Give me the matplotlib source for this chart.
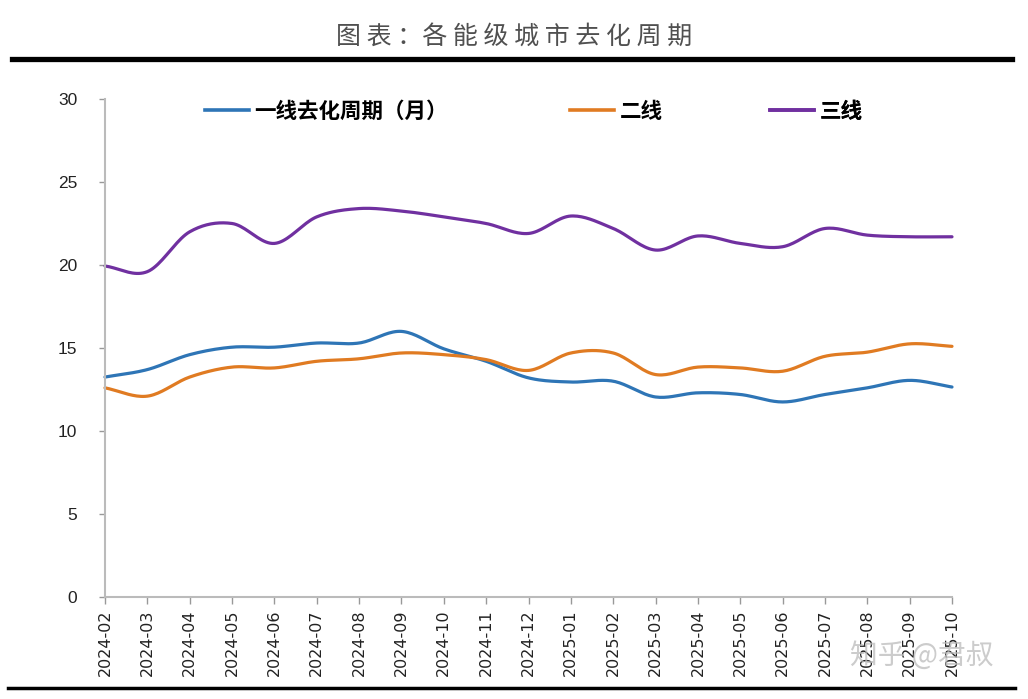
import numpy as np
import matplotlib
matplotlib.use("Agg")
import matplotlib.pyplot as plt
from matplotlib.lines import Line2D

plt.rcParams['font.family'] = ['Noto Sans CJK SC', 'DejaVu Sans']

months = ["2024-02", "2024-03", "2024-04", "2024-05", "2024-06", "2024-07", "2024-08",
          "2024-09", "2024-10", "2024-11", "2024-12", "2025-01", "2025-02", "2025-03",
          "2025-04", "2025-05", "2025-06", "2025-07", "2025-08", "2025-09", "2025-10"]
tier1 = [13.25, 13.7, 14.6, 15.05, 15.05, 15.3, 15.3, 16.0, 14.95, 14.2, 13.2,
         12.95, 13.0, 12.05, 12.3, 12.2, 11.75, 12.2, 12.6, 13.05, 12.65]
tier2 = [12.6, 12.1, 13.25, 13.85, 13.8, 14.2, 14.35, 14.7, 14.6, 14.3, 13.65,
         14.7, 14.7, 13.4, 13.85, 13.8, 13.6, 14.5, 14.75, 15.25, 15.1]
tier3 = [19.94, 19.6, 22.0, 22.5, 21.3, 22.9, 23.4, 23.25, 22.9, 22.5, 21.9,
         22.95, 22.2, 20.9, 21.75, 21.3, 21.1, 22.2, 21.8, 21.7, 21.7]
labels = ["一线去化周期（月）", "二线", "三线"]
colors = ["#2E75B6", "#E07B22", "#7030A0"]
title = "图表：各能级城市去化周期"


def smooth(xs, ys, n=20):
    # Catmull-Rom rendering of the smoothed line (Excel style)
    xs = np.asarray(xs, float); ys = np.asarray(ys, float)
    px = np.concatenate([[2 * xs[0] - xs[1]], xs, [2 * xs[-1] - xs[-2]]])
    py = np.concatenate([[2 * ys[0] - ys[1]], ys, [2 * ys[-1] - ys[-2]]])
    ox, oy = [], []
    t = np.linspace(0, 1, n, endpoint=False)
    for i in range(1, len(px) - 2):
        for arr, out in ((px, ox), (py, oy)):
            p0, p1, p2, p3 = arr[i - 1], arr[i], arr[i + 1], arr[i + 2]
            out.extend(0.5 * ((2 * p1) + (-p0 + p2) * t + (2 * p0 - 5 * p1 + 4 * p2 - p3) * t ** 2
                              + (-p0 + 3 * p1 - 3 * p2 + p3) * t ** 3))
    ox.append(xs[-1]); oy.append(ys[-1])
    return np.array(ox), np.array(oy)


W, H = 1028, 699
fig = plt.figure(figsize=(W / 100, H / 100), dpi=100)
ax = fig.add_axes([105 / W, 1 - 597 / H, (952 - 105) / W, (597 - 99) / H])

x = np.arange(len(months))
for ys, c in zip([tier1, tier2, tier3], colors):
    sx, sy = smooth(x, ys)
    ax.plot(sx, sy, color=c, lw=2.3, solid_capstyle='round', clip_on=False)

ax.set_xlim(0, len(months) - 1)
ax.set_ylim(0, 30)
ax.set_yticks([0, 5, 10, 15, 20, 25, 30])
ax.set_xticks(x)
ax.set_xticklabels(months, rotation=90, fontsize=11.5, family=['DejaVu Sans'], color='#222222')
ax.tick_params(axis='y', labelsize=12.5, colors='#999999', labelcolor='#222222', length=4, width=1, pad=16)
ax.tick_params(axis='x', colors='#999999', labelcolor='#222222', length=5, width=1, pad=4)
for lab in ax.get_yticklabels():
    lab.set_family(['Liberation Sans'])
for s in ['top', 'right']:
    ax.spines[s].set_visible(False)
for s in ['left', 'bottom']:
    ax.spines[s].set_color('#BBBBBB')
    ax.spines[s].set_linewidth(1.5)

leg_x = [205, 570, 770]
for lab, c, lx in zip(labels, colors, leg_x):
    lg = ax.legend([Line2D([0], [0], color=c, lw=2.6)], [lab], loc='center left',
                   bbox_to_anchor=(lx / W, 1 - 111 / H), bbox_transform=fig.transFigure,
                   frameon=False, handlelength=2.05, handletextpad=0.25, borderpad=0,
                   borderaxespad=0,
                   prop={'family': ['Noto Sans CJK SC'], 'weight': 'bold', 'size': 15.5})
    ax.add_artist(lg)

fig.text(514 / W, 1 - 38 / H, " ".join(list(title)).replace("： ", "："), ha='center', va='center',
         fontsize=18, color='#505050', fontweight='light')
fig.add_artist(Line2D([12 / W, 1012 / W], [1 - 59 / H] * 2, color='black', lw=3.8))
fig.add_artist(Line2D([8 / W, 1015 / W], [1 - 688 / H] * 2, color='black', lw=2.5))
fig.text(922 / W, 1 - 656 / H, "知乎 @君叔", ha='center', va='center', fontsize=20,
         color='#BBBBBB', alpha=0.75)

fig.savefig("out.png", dpi=100)
